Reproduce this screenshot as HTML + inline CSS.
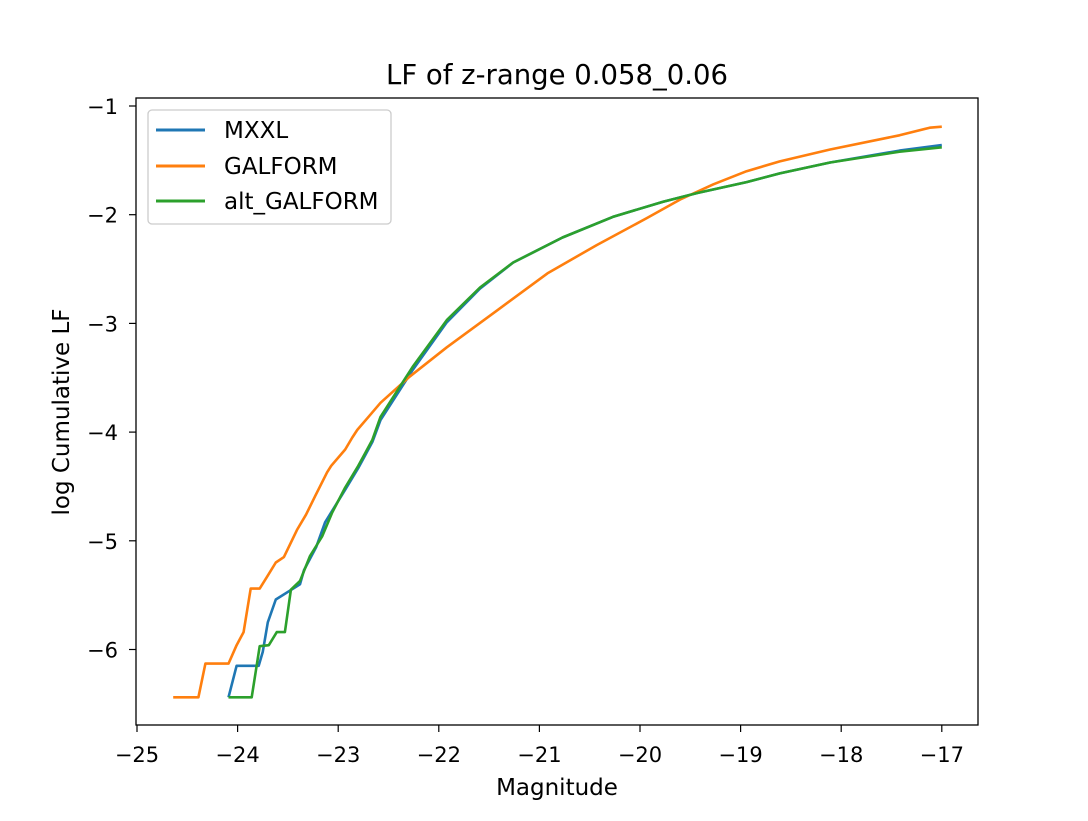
<!DOCTYPE html>
<html><head><meta charset="utf-8"><style>
html,body{margin:0;padding:0;background:#fff;}
svg text{font-family:"DejaVu Sans","Liberation Sans",sans-serif;fill:#000;}
</style></head><body>
<svg id="chart" width="1088" height="816" xmlns="http://www.w3.org/2000/svg">
<rect width="1088" height="816" fill="#fff"/>
<text x="557" y="84" font-size="27.5" text-anchor="middle">LF of z-range 0.058_0.06</text>
<g id="plot"></g>
<g id="axes"></g>
<rect x="136" y="98" width="842" height="627" fill="none" stroke="#000" stroke-width="1.3"/>
<text x="557" y="795" font-size="23" text-anchor="middle">Magnitude</text>
<text transform="translate(69,412) rotate(-90)" font-size="23" text-anchor="middle">log Cumulative LF</text>
<g>
<rect x="148" y="110" width="243" height="114" rx="4" fill="#fff" stroke="#ccc" stroke-width="1.3"/>
<line x1="156" y1="130" x2="205" y2="130" stroke="#1f77b4" stroke-width="3"/>
<text x="224" y="138" font-size="23">MXXL</text>
<line x1="156" y1="166" x2="205" y2="166" stroke="#ff7f0e" stroke-width="3"/>
<text x="224" y="174" font-size="23">GALFORM</text>
<line x1="156" y1="201" x2="205" y2="201" stroke="#2ca02c" stroke-width="3"/>
<text x="224" y="209" font-size="23">alt_GALFORM</text>
</g>
</svg>
<script>
const xTicks=[-25,-24,-23,-22,-21,-20,-19,-18,-17];
const yTicks=[-1,-2,-3,-4,-5,-6];
const orangeX=[-24.64,-24.39,-24.32,-24.09,-24.01,-23.94,-23.87,-23.78,-23.70,-23.62,-23.54,-23.41,-23.32,-23.23,-23.11,-23.07,-22.93,-22.86,-22.81,-22.69,-22.58,-22.29,-21.92,-21.42,-20.92,-20.43,-19.93,-19.60,-19.27,-18.94,-18.61,-18.11,-17.42,-17.12,-17.00];
const orangeY=[-6.44,-6.44,-6.13,-6.13,-5.96,-5.84,-5.44,-5.44,-5.32,-5.20,-5.15,-4.90,-4.76,-4.59,-4.37,-4.31,-4.16,-4.05,-3.98,-3.85,-3.73,-3.49,-3.22,-2.88,-2.54,-2.28,-2.03,-1.86,-1.72,-1.60,-1.51,-1.40,-1.27,-1.20,-1.19];
const greenX=[-24.09,-23.86,-23.78,-23.69,-23.61,-23.53,-23.47,-23.38,-23.28,-23.16,-23.06,-22.93,-22.80,-22.73,-22.66,-22.58,-22.26,-21.92,-21.59,-21.26,-20.77,-20.27,-19.77,-19.43,-18.94,-18.61,-18.11,-17.42,-17.00];
const greenY=[-6.44,-6.44,-5.97,-5.96,-5.84,-5.84,-5.45,-5.37,-5.14,-4.96,-4.74,-4.51,-4.31,-4.19,-4.07,-3.86,-3.40,-2.97,-2.67,-2.44,-2.21,-2.02,-1.88,-1.80,-1.70,-1.62,-1.52,-1.42,-1.38];
const blueX=[-24.09,-24.01,-23.79,-23.75,-23.70,-23.62,-23.38,-23.34,-23.22,-23.13,-22.93,-22.80,-22.73,-22.66,-22.58,-22.26,-21.92,-21.59,-21.26,-20.77,-20.27,-19.77,-19.43,-18.94,-18.61,-18.11,-17.42,-17.00];
const blueY=[-6.44,-6.15,-6.15,-6.02,-5.75,-5.54,-5.40,-5.27,-5.06,-4.83,-4.53,-4.33,-4.21,-4.09,-3.89,-3.43,-2.99,-2.68,-2.44,-2.21,-2.02,-1.88,-1.80,-1.70,-1.62,-1.52,-1.41,-1.36];
const NS='http://www.w3.org/2000/svg';
function sx(v){return 137+(v+25)*100.6;}
function sy(v){return 106+(-1-v)*108.7;}
const axes=document.getElementById('axes');
const plot=document.getElementById('plot');
xTicks.forEach(t=>{
  const l=document.createElementNS(NS,'line');
  l.setAttribute('x1',sx(t));l.setAttribute('x2',sx(t));l.setAttribute('y1',725);l.setAttribute('y2',732);
  l.setAttribute('stroke','#000');l.setAttribute('stroke-width','1.2');
  
  
  axes.appendChild(l);
  const tx=document.createElementNS(NS,'text');
  tx.setAttribute('x',sx(t));tx.setAttribute('y',762);tx.setAttribute('font-size','21');tx.setAttribute('text-anchor','middle');
  tx.textContent='\u2212'+Math.abs(t);
  
  
  axes.appendChild(tx);
});
yTicks.forEach(t=>{
  const l=document.createElementNS(NS,'line');
  l.setAttribute('x1',129);l.setAttribute('x2',136);l.setAttribute('y1',sy(t));l.setAttribute('y2',sy(t));
  l.setAttribute('stroke','#000');l.setAttribute('stroke-width','1.2');
  
  
  axes.appendChild(l);
  const tx=document.createElementNS(NS,'text');
  tx.setAttribute('x',118);tx.setAttribute('y',sy(t)+8);tx.setAttribute('font-size','21');tx.setAttribute('text-anchor','end');
  tx.textContent='\u2212'+Math.abs(t);
  
  
  axes.appendChild(tx);
});
function series(xs,ys,color,name){
  const p=document.createElementNS(NS,'polyline');
  p.setAttribute('points',xs.map((x,i)=>sx(x).toFixed(1)+','+sy(ys[i]).toFixed(1)).join(' '));
  p.setAttribute('fill','none');p.setAttribute('stroke',color);p.setAttribute('stroke-width','2.6');p.setAttribute('stroke-linejoin','round');
  
  
  plot.appendChild(p);
}
series(blueX,blueY,'#1f77b4','mxxl-line');
series(orangeX,orangeY,'#ff7f0e','galform-line');
series(greenX,greenY,'#2ca02c','alt-galform-line');
</script>
</body></html>
